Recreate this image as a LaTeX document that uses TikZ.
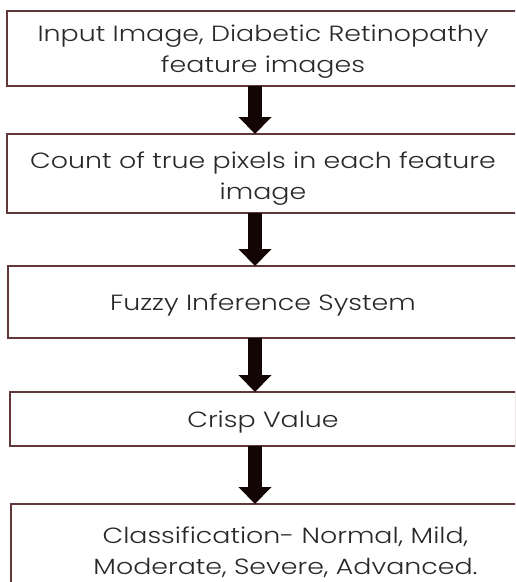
\documentclass[tikz,border=0pt]{standalone}
\usepackage{fontspec}
\setmainfont{Poppins Light}[FakeStretch=1.22]
\usetikzlibrary{arrows.meta,positioning}
\definecolor{boxline}{RGB}{96,56,56}
\definecolor{boxtext}{RGB}{40,40,40}
\newcommand{\toppad}[1]{\rule{0pt}{#1}}
\tikzset{
    flowbox/.style={draw=boxline, line width=1.3pt, rectangle, outer sep=0pt, align=center, text=boxtext, font=\fontsize{22}{31}\selectfont},
    flowarrow/.style={line width=14pt, draw={rgb,255:red,20;green,5;blue,5}, -{Triangle[width=32pt,length=17pt]}}
}

\begin{document}
\begin{tikzpicture}[x=1pt, y=-1pt]
        \useasboundingbox (0,0) rectangle (515,582);
        \clip (0,0) rectangle (515,582);
        \node[flowbox, minimum width=512pt, minimum height=75pt] (input) at (263,48.5) {\toppad{23pt}Input Image, Diabetic Retinopathy\\feature images};
        \node[flowbox, minimum width=512pt, minimum height=79pt] (count) at (263,173.5) {\toppad{27pt}Count of true pixels in each feature\\image};
        \node[flowbox, minimum width=510pt, minimum height=72pt] (fis) at (263,302) {\toppad{23pt}Fuzzy Inference System};
        \node[flowbox, minimum width=506pt, minimum height=54pt] (crisp) at (263,419) {\toppad{23pt}Crisp Value};
        \node[flowbox, minimum width=549pt, minimum height=96pt] (classify) at (285.5,552) {Classification- Normal, Mild,\\Moderate, Severe, Advanced.};
        \draw[flowarrow] ([xshift=-8pt]input.south) -- ([xshift=-8pt]count.north);
        \draw[flowarrow] ([xshift=-8pt]count.south) -- ([xshift=-8pt]fis.north);
        \draw[flowarrow] ([xshift=-8pt]fis.south) -- ([xshift=-8pt]crisp.north);
        \draw[flowarrow] ([xshift=-8pt]crisp.south) -- ([xshift=-30.5pt]classify.north);
    \end{tikzpicture}
\end{document}
